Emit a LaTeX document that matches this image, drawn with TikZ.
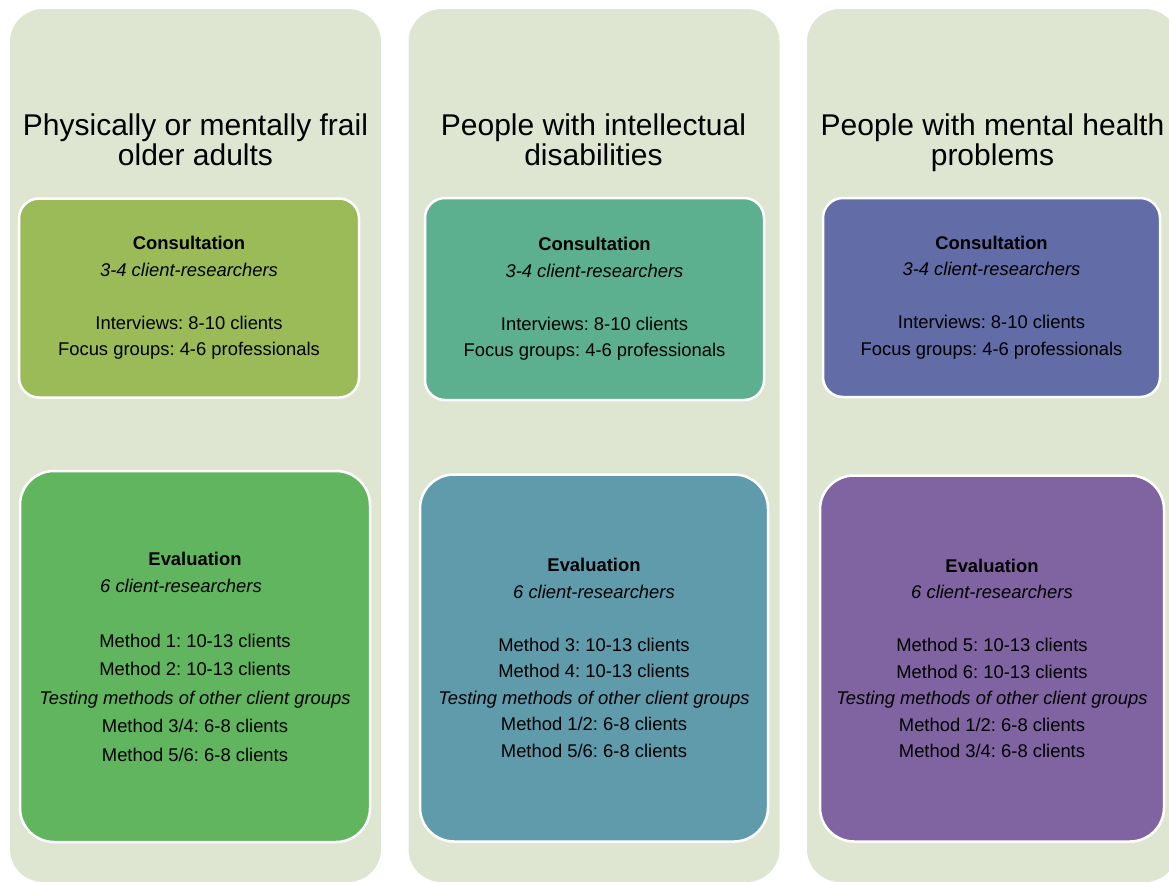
\documentclass[tikz,border=0pt]{standalone}
\usepackage{fontspec}
\setmainfont{Liberation Sans}
\frenchspacing
\usetikzlibrary{positioning}

\definecolor{bggreen}{RGB}{222,230,210}
\definecolor{olivebox}{RGB}{155,187,89}
\definecolor{greenbox}{RGB}{96,181,94}
\definecolor{seabox}{RGB}{92,176,144}
\definecolor{tealbox}{RGB}{96,155,172}
\definecolor{bluebox}{RGB}{98,108,166}
\definecolor{purplebox}{RGB}{128,100,162}

\begin{document}
\begin{tikzpicture}[x=1pt,y=-1pt,node distance=398.5pt,
                    every node/.style={align=center,inner sep=0pt,text=black}]
  \tikzstyle{column}=[fill=bggreen,rounded corners=33pt,minimum width=371pt,minimum height=873pt]
  \tikzstyle{title}=[font=\fontsize{30}{30}\selectfont]
  \tikzstyle{phase}=[draw=white,line width=2.5pt,font=\fontsize{18.4}{26.5}\selectfont]
  \tikzstyle{consult}=[phase,rounded corners=20pt,minimum height=199pt]
  \tikzstyle{evaluate}=[phase,rounded corners=34pt,minimum height=367pt]

  \useasboundingbox (0,0) rectangle (1169,881);
  \clip (0,0) rectangle (1169,881);

  % columns
  \node[column] (bg1) at (195.5,445.5) {};
  \node[column] (bg2) [right of=bg1] {};
  \node[column] (bg3) [right of=bg2] {};

  % titles
  \node[title] (t1) at (195.5,144.5) {Physically or mentally frail\\older adults\strut};
  \node[title] (t2) at (593.5,144.5) {People with intellectual\\disabilities\strut};
  \node[title] (t3) at (992.5,144.5) {People with mental health\\problems\strut};

  % consultation
  \node[consult,fill=olivebox,minimum width=340pt] (cons1) at (189,298)
    {\textbf{Consultation}\\\textit{3-4 client-researchers}\\[26.5pt]Interviews: 8-10 clients\\Focus groups: 4-6 professionals};
  \node[consult,fill=seabox,minimum width=339pt,minimum height=202pt] (cons2) at (594.5,299)
    {\textbf{Consultation}\\\textit{3-4 client-researchers}\\[26.5pt]Interviews: 8-10 clients\\Focus groups: 4-6 professionals};
  \node[consult,fill=bluebox,minimum width=337pt] (cons3) at (991.5,297.5)
    {\textbf{Consultation}\\\textit{3-4 client-researchers}\\[26.5pt]Interviews: 8-10 clients\\Focus groups: 4-6 professionals};

  % evaluation
  \node[evaluate,fill=greenbox,minimum width=350pt,minimum height=371pt,font=\fontsize{18.4}{28.5}\selectfont] (eval1) at (195,656.5)
    {\textbf{Evaluation}\\[-1.5pt]\textit{6 client-researchers}\hspace*{28pt}\mbox{}\\[26.5pt]Method 1: 10-13 clients\\Method 2: 10-13 clients\\\textit{Testing methods of other client groups}\\Method 3/4: 6-8 clients\\Method 5/6: 6-8 clients};
  \node[evaluate,fill=tealbox,minimum width=348pt] (eval2) at (594,658)
    {\textbf{Evaluation}\\\textit{6 client-researchers}\\[26.5pt]Method 3: 10-13 clients\\Method 4: 10-13 clients\\\textit{Testing methods of other client groups}\\Method 1/2: 6-8 clients\\Method 5/6: 6-8 clients};
  \node[evaluate,fill=purplebox,minimum width=344pt,minimum height=366pt] (eval3) at (992,658.5)
    {\textbf{Evaluation}\\\textit{6 client-researchers}\\[26.5pt]Method 5: 10-13 clients\\Method 6: 10-13 clients\\\textit{Testing methods of other client groups}\\Method 1/2: 6-8 clients\\Method 3/4: 6-8 clients};
\end{tikzpicture}
\end{document}
